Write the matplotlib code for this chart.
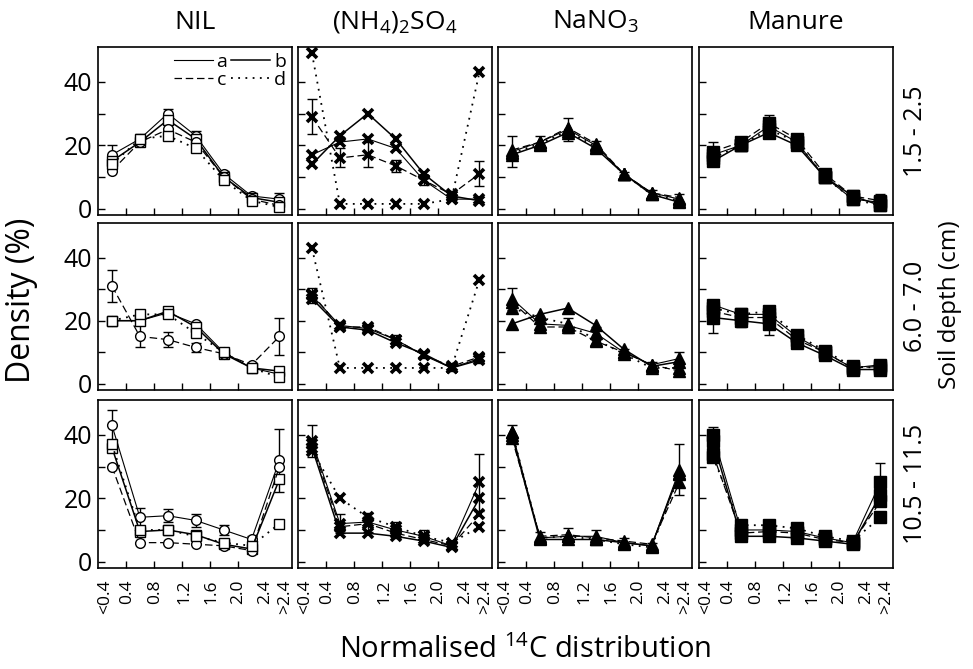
import numpy as np
import matplotlib
matplotlib.use('Agg')
import matplotlib.pyplot as plt
from matplotlib.lines import Line2D

plt.rcParams['font.family'] = ['Open Sans', 'DejaVu Sans']
plt.rcParams['mathtext.fontset'] = 'custom'
plt.rcParams['mathtext.rm'] = 'Open Sans'
plt.rcParams['mathtext.it'] = 'Open Sans:italic'

# categories / labels
x_labels = ['<0.4', '0.4', '0.8', '1.2', '1.6', '2.0', '2.4', '>2.4']
treatments = ['NIL', '(NH$_4$)$_2$SO$_4$', 'NaNO$_3$', 'Manure']
depths = ['1.5 - 2.5', '6.0 - 7.0', '10.5 - 11.5']
series = ['a', 'b', 'c', 'd']

# density (%) per panel, rows a, b, c, d
nil_1 = [[17, 22, 30, 23, 11, 4, 3],
         [15, 21, 28, 22, 10, 3.5, 2],
         [12, 21, 25, 21, 10, 3, 1],
         [14, 22, 23, 19, 9, 2.5, 0.5]]
nh4_1 = [[17, 21, 22, 19, 9, 3, 3],
         [14, 23, 30, 22, 11, 4, 2.5],
         [29, 16, 17, 13.5, 9, 4.5, 11],
         [49, 1.5, 1.5, 1.5, 1.5, 3, 43]]
nano3_1 = [[18, 21, 25, 20, 11, 5, 3],
           [17, 20, 24, 19, 11, 4.5, 2],
           [18.5, 21, 25.5, 20.5, 11, 5, 3.5],
           [17.5, 20.5, 24.5, 19.5, 11, 4.5, 2.5]]
manure_1 = [[17, 20, 26, 21, 10, 3, 2],
            [15, 20, 24, 20, 10, 4, 1],
            [18, 21, 27, 22, 11, 4, 2.5],
            [16, 20, 25, 21, 10, 3, 1]]

nil_2 = [[20, 20, 22.5, 19, 10, 5, 3],
         [20, 20, 23, 18, 9.5, 5, 4],
         [31, 15, 14, 11.5, 9.5, 6, 15],
         [20, 22, 22, 16, 10, 5, 2]]
nh4_2 = [[28, 18.5, 17.5, 14, 9, 5, 8],
         [27, 18, 17, 13, 9.5, 5, 7.5],
         [28.5, 18, 18, 14, 9, 5.5, 8.5],
         [43, 5, 5, 5, 5, 5, 33]]
nano3_2 = [[27, 19, 18.5, 16, 10, 6, 8],
           [19, 22, 24, 18.5, 11, 5.5, 7],
           [26, 18, 18, 13.5, 10, 6, 4],
           [24, 21, 19, 14, 9.5, 5, 5]]
manure_2 = [[25, 22, 22, 15, 10, 5, 6],
            [21, 20, 19, 13, 9, 4.5, 4.5],
            [23, 21, 21, 14, 10, 5, 5.5],
            [24, 22, 23, 15.5, 10.5, 5.5, 5]]

nil_3 = [[43, 14, 14.5, 13, 10, 7, 32],
         [36, 9.5, 10, 8.5, 5.5, 4, 26],
         [30, 6, 6, 5.5, 5, 3.5, 30],
         [37, 10, 10, 8, 6, 5, 12]]
nh4_3 = [[38, 12, 12.5, 10, 8, 5, 25],
         [36, 9, 9, 8, 6.5, 4.5, 20],
         [37, 11, 12, 9, 7, 5, 15],
         [35, 20, 14, 11, 8, 6, 11]]
nano3_3 = [[41, 7.5, 8, 8, 6, 5, 29],
           [40, 7, 7, 7, 6, 5, 28],
           [39, 8, 8.5, 7.5, 6.5, 5.5, 25],
           [41, 7.5, 8, 7, 5.5, 4.5, 27.5]]
manure_3 = [[40, 10, 10, 9.5, 7.5, 6, 25],
            [38, 8, 8, 7.5, 6.5, 5.5, 21],
            [34, 9, 9.5, 9, 7, 6, 19],
            [33, 11.5, 11.5, 10.5, 8, 6.5, 14]]

# error bars (one series per panel)
err_nil = [[3, 1.5, 1.5, 1.5, 1, 1, 2],
           [5, 3.5, 2.5, 1.5, 1, 0.5, 6],
           [5, 3, 2, 2, 1.5, 1, 10]]
err_nh4 = [[5.5, 3, 4, 2, 1.5, 1, 4],
           [2.5, 1, 1, 1.5, 1, 1, 1.5],
           [5, 3, 3, 2.5, 2, 1, 9]]
err_nano3 = [[5, 2, 3.5, 1.5, 0.5, 1, 1.5],
             [3.5, 2, 2.5, 2, 1, 1, 2],
             [2, 2, 2.5, 2, 1.5, 1, 8]]
err_manure = [[3, 1, 2.5, 1.5, 0.5, 1, 2],
              [5, 2, 3.5, 1.5, 1, 1, 1.5],
              [2.5, 3, 2, 2, 1.5, 1, 6]]
err_series = [[0, 2, 0, 2], [2, 0, 0, 1], [0, 0, 0, 0]]

panels = [[nil_1, nh4_1, nano3_1, manure_1],
          [nil_2, nh4_2, nano3_2, manure_2],
          [nil_3, nh4_3, nano3_3, manure_3]]
errors = [err_nil, err_nh4, err_nano3, err_manure]

line_styles = [dict(ls='-', lw=0.8), dict(ls='-', lw=1.1),
               dict(ls=(0, (6, 3)), lw=0.9), dict(ls=(0, (1, 3)), lw=1.3)]


def marker_style(col, k):
    if col == 0:
        return dict(marker='os'[k % 2], ms=7, mfc='white', mec='black', mew=1.0)
    if col == 1:
        return dict(marker='x', ms=7, mec='black', mew=2.6)
    if col == 2:
        return dict(marker='^', ms=8.5, mfc='black', mec='black')
    return dict(marker='s', ms=9, mfc='black', mec='black')


if __name__ == "__main__":
    fig = plt.figure(figsize=(9.73, 6.69), dpi=100)
    W, H = 973., 669.
    lefts = [98, 298, 498, 699]
    rows = [(47, 215), (223, 390), (400, 568)]
    x = np.arange(7)

    for r, (top, bot) in enumerate(rows):
        for c, left in enumerate(lefts):
            ax = fig.add_axes([left / W, 1 - bot / H, 194 / W, (bot - top) / H])
            data = panels[r][c]
            for k in range(4):
                ax.plot(x, data[k], color='black', zorder=3,
                        **line_styles[k], **marker_style(c, k))
            ke = err_series[r][c]
            ax.errorbar(x, data[ke], yerr=errors[c][r], fmt='none',
                        ecolor='black', elinewidth=1.0, capsize=3.5, capthick=1.0,
                        zorder=2)
            ax.set_xlim(-0.5, 6.45)
            ax.set_ylim(-2, 51)
            ax.set_yticks([0, 20, 40])
            ax.set_yticks([10, 30], minor=True)
            ax.set_xticks([-0.26, 0.55, 1.54, 2.58, 3.56, 4.53, 5.5, 6.2])
            ax.set_xticks(np.arange(0.5, 6, 1.0), minor=True)
            ax.tick_params(axis='x', which='major', length=0, pad=8,
                           labelsize=12.5, labelrotation=90)
            ax.tick_params(axis='x', which='minor', direction='in', length=5, width=1)
            ax.tick_params(axis='y', which='both', direction='in', length=5, width=1,
                           labelsize=18, pad=4)
            for s in ax.spines.values():
                s.set_linewidth(1.2)
            if r == 2:
                ax.set_xticklabels(x_labels)
            else:
                ax.set_xticklabels([])
            if c != 0:
                ax.set_yticklabels([])
            if r == 0:
                ax.set_title(treatments[c], fontsize=19, pad=13)
            if c == 3:
                fig.text(916 / W, 1 - (top + bot) / 2 / H, depths[r], rotation=90,
                         ha='center', va='center', fontsize=18)
            if r == 0 and c == 0:
                hs = [Line2D([], [], color='black', **line_styles[k]) for k in (0, 2, 1, 3)]
                ax.legend(hs, ['a', 'c', 'b', 'd'], ncol=2, loc='upper right',
                          frameon=False, fontsize=14, handlelength=2.0,
                          handletextpad=0.2, columnspacing=0.2, labelspacing=0.0,
                          borderaxespad=0.1, borderpad=0.2)

    fig.text(21 / W, 1 - 300 / H, 'Density (%)', rotation=90,
             ha='center', va='center', fontsize=23)
    fig.text(950 / W, 1 - 305 / H, 'Soil depth (cm)', rotation=90,
             ha='center', va='center', fontsize=17.5)
    fig.text(525 / W, 1 - 650 / H, 'Normalised $^{14}$C distribution',
             ha='center', va='center', fontsize=21)

    fig.savefig('out.png', dpi=100)
